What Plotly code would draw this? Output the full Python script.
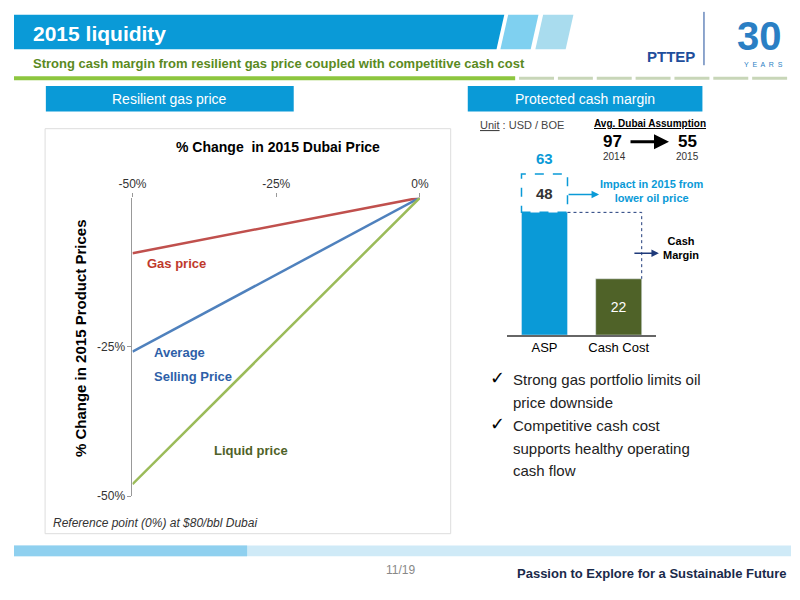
import plotly.graph_objects as go

dubai_change = [-50, 0]
gas_price = [-9.3, 0]
avg_selling = [-25.8, 0]
liquid_price = [-48, 0]
x_ticks = [-50, -25, 0]
x_ticklabels = ["-50%", "-25%", "0%"]
y_ticks = [-25, -50]
y_ticklabels = ["-25%", "-50%"]

bar_cats = ["ASP", "Cash Cost"]
bar_vals = [48, 22]
asp_2014 = 63

BLUE = "#0a9ad7"
fig = go.Figure()
fig.add_trace(go.Scatter(x=dubai_change, y=gas_price, mode="lines", line=dict(color="#c0504d", width=2.5), xaxis="x", yaxis="y"))
fig.add_trace(go.Scatter(x=dubai_change, y=avg_selling, mode="lines", line=dict(color="#4f81bd", width=2.5), xaxis="x", yaxis="y"))
fig.add_trace(go.Scatter(x=dubai_change, y=liquid_price, mode="lines", line=dict(color="#9bbb59", width=2.5), xaxis="x", yaxis="y"))
fig.add_trace(go.Bar(x=[0, 1], y=bar_vals, marker_color=[BLUE, "#4f6228"], width=0.62,
                     text=["", str(bar_vals[1])], textposition="inside", insidetextanchor="middle",
                     textfont=dict(color="white", size=14, family="Liberation Sans"),
                     xaxis="x2", yaxis="y2"))

ax_font = dict(family="Liberation Sans", size=12, color="#333")
fig.update_layout(
    autosize=True, margin=dict(l=0, r=0, t=0, b=0), showlegend=False,
    plot_bgcolor="white", paper_bgcolor="white",
    xaxis=dict(domain=[0.1525, 0.5225], range=[-50, 0], side="top", tickvals=x_ticks, ticktext=x_ticklabels,
               showgrid=False, zeroline=False, ticks="outside", ticklen=4, tickcolor="#999", tickfont=ax_font, anchor="y", showline=False),
    yaxis=dict(domain=[0.1633, 0.6667], range=[-50, 0], tickvals=y_ticks, ticktext=y_ticklabels, showgrid=False,
               zeroline=False, showline=True, linecolor="#999", tickfont=ax_font, ticks="outside", ticklen=4, tickcolor="#999", anchor="x"),
    xaxis2=dict(domain=[0.635, 0.826], range=[-0.5, 1.5], tickvals=[0, 1], ticktext=bar_cats, showgrid=False, zeroline=False,
                showline=True, linecolor="#666", linewidth=1.5, tickfont=dict(family="Liberation Sans", size=13, color="black"), anchor="y2"),
    yaxis2=dict(domain=[0.435, 0.7367], range=[0, 70], visible=False, anchor="x2"),
)

shapes = []
shapes.append(dict(type="path", xref="paper", yref="paper", path="M 0 0.975 L 0.631 0.975 L 0.621 0.917 L 0 0.917 Z", fillcolor=BLUE, line_width=0))
shapes.append(dict(type="path", xref="paper", yref="paper", path="M 0.636 0.975 L 0.675 0.975 L 0.665 0.917 L 0.626 0.917 Z", fillcolor="#7fd0f0", line_width=0))
shapes.append(dict(type="path", xref="paper", yref="paper", path="M 0.681 0.975 L 0.72 0.975 L 0.71 0.917 L 0.671 0.917 Z", fillcolor="#a9dcee", line_width=0))
shapes.append(dict(type="line", xref="paper", yref="paper", x0=0, x1=0.645, y0=0.868, y1=0.868, line=dict(color="#8dc63f", width=4)))
for i in range(7):
    shapes.append(dict(type="line", xref="paper", yref="paper", x0=0.65 + i*0.05, x1=0.695 + i*0.05, y0=0.868, y1=0.868, line=dict(color="#c8d6b8", width=3)))
shapes.append(dict(type="line", xref="paper", yref="paper", x0=0.888, x1=0.888, y0=0.98, y1=0.89, line=dict(color="#1f4e9c", width=1)))
shapes.append(dict(type="rect", xref="paper", yref="paper", x0=0.041, x1=0.36, y0=0.812, y1=0.855, fillcolor=BLUE, line_width=0))
shapes.append(dict(type="rect", xref="paper", yref="paper", x0=0.584, x1=0.886, y0=0.812, y1=0.855, fillcolor=BLUE, line_width=0))
shapes.append(dict(type="rect", xref="paper", yref="paper", x0=0.04, x1=0.562, y0=0.1, y1=0.783, line=dict(color="#ddd", width=1), fillcolor="rgba(0,0,0,0)", layer="below"))
shapes.append(dict(type="rect", xref="x2", yref="y2", x0=-0.31, x1=0.31, y0=bar_vals[0], y1=asp_2014, line=dict(color=BLUE, width=1.5, dash="dash")))
shapes.append(dict(type="path", xref="x2", yref="y2", path=f"M 0.31 {bar_vals[0]} L 1.31 {bar_vals[0]} L 1.31 {bar_vals[1]}", line=dict(color="#1f3a7a", width=1, dash="dot")))
shapes.append(dict(type="rect", xref="paper", yref="paper", x0=0, x1=1, y0=0.062, y1=0.08, fillcolor="#cfeaf7", line_width=0))
shapes.append(dict(type="rect", xref="paper", yref="paper", x0=0, x1=0.3, y0=0.062, y1=0.08, fillcolor="#8fd0ef", line_width=0))
fig.update_layout(shapes=shapes)

F = "Liberation Sans"
ann = []
def t(x, y, s, size=12, color="black", bold=False, xa="left", ya="middle", ref=("paper", "paper"), italic=False, angle=0):
    txt = s
    if bold: txt = f"<b>{txt}</b>"
    if italic: txt = f"<i>{txt}</i>"
    ann.append(dict(x=x, y=y, xref=ref[0], yref=ref[1], text=txt, showarrow=False, xanchor=xa, yanchor=ya,
                    font=dict(family=F, size=size, color=color), textangle=angle))

t(0.022, 0.943, "2015 liquidity", 21, "white", True)
t(0.022, 0.893, "Strong cash margin from resilient gas price coupled with competitive cash cost", 13, "#5a8a1e", True)
t(0.845, 0.905, "PTTEP", 15, "#1f4e9c", True, "center")
t(0.96, 0.94, "30", 40, "#2a7fc4", True, "center")
t(0.965, 0.892, "Y  E  A  R  S", 7, "#2a7fc4", False, "center")
t(0.2, 0.833, "Resilient gas price", 14, "white", False, "center")
t(0.735, 0.833, "Protected cash margin", 14, "white", False, "center")
t(0.34, 0.752, "% Change  in 2015 Dubai Price", 14, "black", True, "center")
t(0.085, 0.43, "% Change in 2015 Product Prices", 15, "black", True, "center", angle=-90)
t(0.168, 0.556, "Gas price", 13, "#c0392b", True)
t(0.178, 0.405, "Average", 13, "#2e5fa8", True)
t(0.178, 0.365, "Selling Price", 13, "#2e5fa8", True)
t(0.255, 0.24, "Liquid price", 13, "#4f6228", True)
t(0.047, 0.118, "Reference point (0%) at $80/bbl Dubai", 12, "#333", italic=True)
t(0.597, 0.79, "<u>Unit</u> : USD / BOE", 11, "#444")
t(0.818, 0.792, "<u>Avg. Dubai Assumption</u>", 10, "black", True, "center")
t(0.755, 0.761, "97", 17, "black", True)
t(0.755, 0.736, "2014", 10, "#333")
t(0.882, 0.761, "55", 17, "black", True, "right")
t(0.884, 0.736, "2015", 10, "#333", xa="right")
t(0, asp_2014 + 2, str(asp_2014), 15, BLUE, True, "center", "bottom", ("x2", "y2"))
t(0, 55.5, str(bar_vals[0]), 15, "#333", True, "center", ref=("x2", "y2"))
t(0.752, 0.678, "Impact in 2015 from<br>lower oil price", 11, BLUE, True)
t(0.833, 0.582, "Cash<br>Margin", 11, "black", True)
t(0.61, 0.363, "✓", 18, "black")
t(0.64, 0.36, "Strong gas portfolio limits oil", 15, "#222")
t(0.64, 0.322, "price downside", 15, "#222")
t(0.61, 0.285, "✓", 18, "black")
t(0.64, 0.282, "Competitive cash cost", 15, "#222")
t(0.64, 0.244, "supports healthy operating", 15, "#222")
t(0.64, 0.206, "cash flow", 15, "#222")
t(0.497, 0.038, "11/19", 12, "#888", False, "center")
t(0.82, 0.033, "Passion to Explore for a Sustainable Future", 13, "#1a2a4a", True, "center")

def arrow(x, y, dx, color, w, size=1):
    ann.append(dict(x=x, y=y, ax=-dx, ay=0, xref="paper", yref="paper", axref="pixel", ayref="pixel", text="",
                    showarrow=True, arrowhead=2, arrowsize=size, arrowwidth=w, arrowcolor=color))
arrow(0.753, 0.672, 32, BLUE, 1.5)
arrow(0.83, 0.573, 26, "#1f3a7a", 1.5)
arrow(0.843, 0.761, 40, "black", 3, 1.0)
fig.update_layout(annotations=ann)
fig.write_html("out.html", default_width="100vw", default_height="100vh", config={"displayModeBar": False})
with open("out.html", encoding="utf-8") as f:
    html = f.read()
html = html.replace("<head>", "<head><style>html,body{margin:0;padding:0;overflow:hidden}</style>", 1)
with open("out.html", "w", encoding="utf-8") as f:
    f.write(html)
